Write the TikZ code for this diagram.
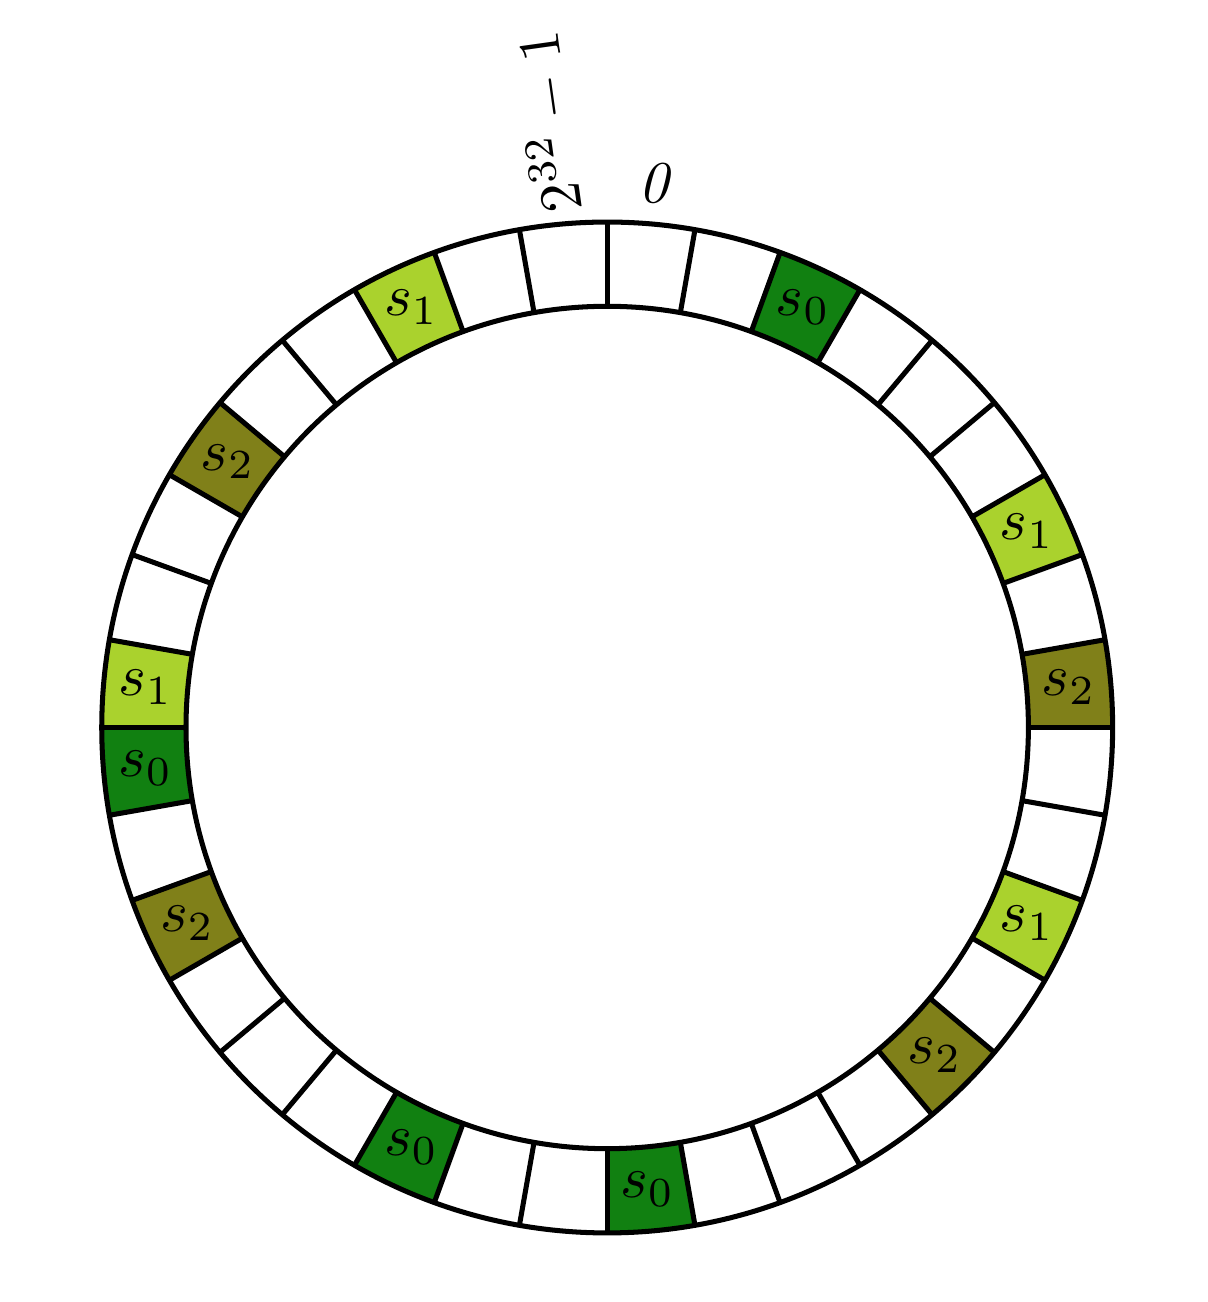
\documentclass[tikz,border=0pt]{standalone}

\definecolor{server0}{RGB}{17,128,17}
\definecolor{server1}{RGB}{170,210,45}
\definecolor{server2}{RGB}{128,128,25}

\def\rin{2.5}
\def\rout{3}
\def\rmid{2.75}

\begin{document}
\begin{tikzpicture}[line width=0.85pt]
      \useasboundingbox (-3.604,-3.410) rectangle (3.565,4.318);
      \foreach \slot/\server in {%
          2/0, 6/1, 8/2, 11/1, 13/2, 17/0,
          20/0, 24/2, 26/0, 27/1, 30/2, 33/1%
        } {
          \pgfmathsetmacro\start{90-10*\slot} % Slot starts at top, runs clockwise
          \pgfmathsetmacro\stop{\start-10}
          % Fill the slot and name its server
          \fill[server\server] (\start:\rout) arc (\start:\stop:\rout)
            -- (\stop:\rin) arc (\stop:\start:\rin) -- cycle;
          \node (slot\slot) at (\start-5:\rmid) {$s_{\server}$};
        };
      % Ring and slot borders
      \draw (0,0) circle (\rout);
      \draw (0,0) circle (\rin);
      \foreach \i in {0,...,35} {
          \draw (\i*10:\rin) -- (\i*10:\rout);
        };
      \node (first) at (85:3.24) {\textit{0}};
      \node[rotate=98] (last) at (95.5:3.61) {$2^{32}-1$};
    \end{tikzpicture}
\end{document}
